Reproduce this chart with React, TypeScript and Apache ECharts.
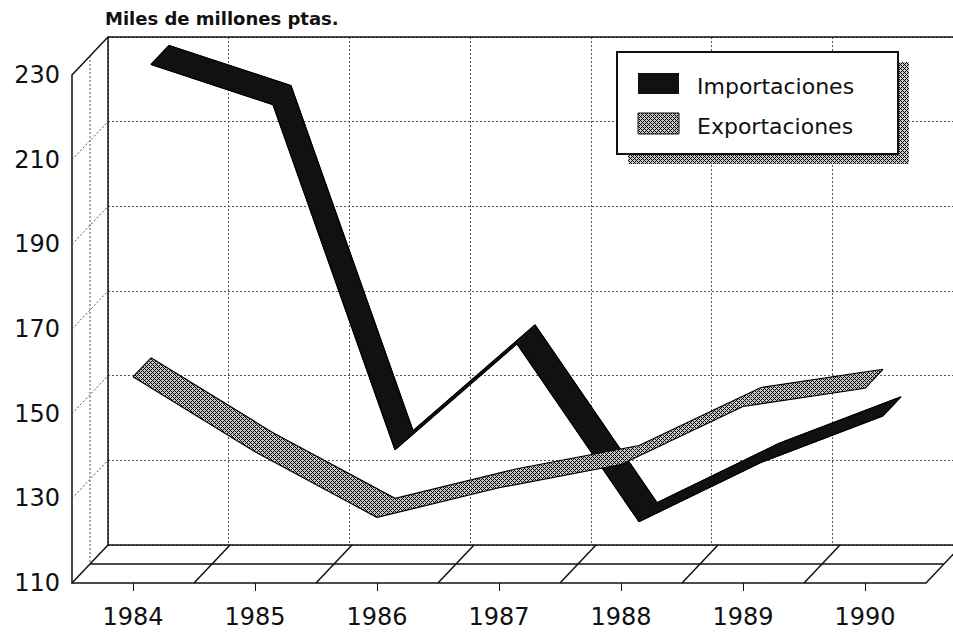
import React, { useEffect, useRef } from "react";
import * as echarts from "echarts";

// ---- data ----
const years = ["1984", "1985", "1986", "1987", "1988", "1989", "1990"];
const importaciones = [228, 218.5, 137, 162, 120, 134, 145];
const exportaciones = [158.7, 141, 125.5, 132.5, 138, 151.7, 156];
const yTicks = [110, 130, 150, 170, 190, 210, 230];
const titleText = "Miles de millones ptas.";
const seriesNames = ["Importaciones", "Exportaciones"];

// ---- layout ----
const L = 72;
const T = 75;
const W = 854;
const H = 508;
const DX = 36;
const DY = -38;
const FONT = "DejaVu Sans";
const INK = "#111";

function makeHatch(): HTMLCanvasElement {
  const c = document.createElement("canvas");
  c.width = 4;
  c.height = 4;
  const ctx = c.getContext("2d")!;
  ctx.fillStyle = "#c8c8c8";
  ctx.fillRect(0, 0, 4, 4);
  ctx.fillStyle = "#000";
  for (let x = 0; x < 4; x++) {
    for (let y = 0; y < 4; y++) {
      if ((x + y) % 4 === 0 || (x - y + 4) % 4 === 0) ctx.fillRect(x, y, 1, 1);
    }
  }
  return c;
}

export default function App() {
  const ref = useRef<HTMLDivElement>(null);

  useEffect(() => {
    document.body.style.margin = "0";
    if (!ref.current) return;
    const chart = echarts.init(ref.current, undefined, { renderer: "svg" });
    const hatch: any = { image: makeHatch(), repeat: "repeat", imageWidth: 4, imageHeight: 4 };

    const yMin = yTicks[0];
    const yMax = yTicks[yTicks.length - 1];
    const yOf = (v: number) => T + ((yMax - v) / (yMax - yMin)) * H;
    const B = T + H;
    const band = W / years.length;

    const solid = { stroke: INK, lineWidth: 1.5 };
    const dotted = { stroke: "#555", lineWidth: 1, lineDash: [2, 2] };
    const line = (x1: number, y1: number, x2: number, y2: number, style: any) => ({
      type: "line",
      z: 1,
      silent: true,
      shape: { x1, y1, x2, y2 },
      style,
    });

    const frame: any[] = [];
    // left wall
    frame.push(line(L, T, L + DX, T + DY, solid));
    frame.push(line(L + DX, T + DY, L + DX + W, T + DY, solid));
    yTicks.slice(1, -1).forEach((v) => {
      const y = yOf(v);
      frame.push(line(L, y, L + DX, y + DY, dotted));
    });
    frame.push(line(L + DX / 2, T + DY / 2, L + DX / 2, B + DY / 2, dotted));
    // floor
    frame.push(line(L, B, L + DX, B + DY, solid));
    frame.push(line(L + DX / 2, B + DY / 2, L + W + DX / 2, B + DY / 2, solid));
    for (let k = 1; k <= years.length; k++) {
      const x = L + k * band;
      frame.push(line(x, B, x + DX, B + DY, solid));
    }

    // legend
    const LX = 617, LY = 52, LW = 281, LH = 102;
    const legend: any[] = [
      { type: "rect", z: 20, shape: { x: LX + 11, y: LY + 10, width: LW, height: LH }, style: { fill: hatch } },
      { type: "rect", z: 21, shape: { x: LX, y: LY, width: LW, height: LH }, style: { fill: "#fff", stroke: INK, lineWidth: 2 } },
      { type: "rect", z: 22, shape: { x: LX + 21, y: LY + 21, width: 41, height: 21 }, style: { fill: INK } },
      { type: "rect", z: 22, shape: { x: LX + 21, y: LY + 61, width: 41, height: 21 }, style: { fill: hatch, stroke: INK, lineWidth: 1 } },
      { type: "text", z: 22, x: LX + 80, y: LY + 34, style: { text: seriesNames[0], font: `22px '${FONT}'`, fill: INK, textVerticalAlign: "middle" } },
      { type: "text", z: 22, x: LX + 80, y: LY + 74, style: { text: seriesNames[1], font: `22px '${FONT}'`, fill: INK, textVerticalAlign: "middle" } },
      { type: "text", z: 22, x: 105, y: 18, style: { text: titleText, font: `bold 18px '${FONT}'`, fill: INK, textVerticalAlign: "middle" } },
    ];

    const ribbon = (name: string, values: number[], d0: number, d1: number, fill: any, seam: string | null) => ({
      type: "custom",
      name,
      xAxisIndex: 0,
      yAxisIndex: 0,
      clip: false,
      z: 5,
      data: values.slice(0, -1).map((v, i) => [i, v, values[i + 1]]),
      renderItem: (params: any, api: any) => {
        const i = api.value(0);
        const last = values.length - 2;
        const a = api.coord([i, api.value(1)]);
        const b = api.coord([i + 1, api.value(2)]);
        const off = (p: number[], d: number) => [p[0] + DX * d, p[1] + DY * d];
        const a0 = off(a, d0), b0 = off(b, d0), b1 = off(b, d1), a1 = off(a, d1);
        const edge = { stroke: "#000", lineWidth: 1.2, fill: null };
        const children: any[] = [
          {
            type: "polygon",
            shape: { points: [a0, b0, b1, a1] },
            style: { fill, stroke: seam, lineWidth: seam ? 1 : 0, lineJoin: "round" },
          },
          { type: "polyline", shape: { points: [a0, b0] }, style: edge },
          { type: "polyline", shape: { points: [a1, b1] }, style: edge },
        ];
        if (i === 0) children.push({ type: "polyline", shape: { points: [a0, a1] }, style: edge });
        if (i === last) children.push({ type: "polyline", shape: { points: [b0, b1] }, style: edge });
        return { type: "group", children };
      },
    });

    const axisText = { fontFamily: FONT, fontSize: 24, color: INK };

    chart.setOption({
      animation: false,
      backgroundColor: "#fff",
      grid: [
        { left: L, top: T, width: W, height: H },
        { left: L + DX, top: T + DY, width: W, height: H },
      ],
      xAxis: [
        {
          type: "category",
          gridIndex: 0,
          data: years,
          boundaryGap: true,
          axisLine: { show: true, lineStyle: { color: INK, width: 1.5 } },
          axisTick: { show: true, alignWithLabel: true, length: 8, lineStyle: { color: INK } },
          axisLabel: { ...axisText, margin: 22, interval: 0 },
          splitLine: { show: false },
        },
        {
          type: "category",
          gridIndex: 1,
          data: years,
          boundaryGap: true,
          axisLine: { show: true, lineStyle: { color: INK, width: 1.5 } },
          axisTick: { show: false },
          axisLabel: { show: false, interval: 0 },
          splitLine: { show: true, interval: 0, lineStyle: { color: "#555", width: 1, type: [2, 2] } },
        },
      ],
      yAxis: [
        {
          type: "value",
          gridIndex: 0,
          min: yMin,
          max: yMax,
          interval: 20,
          axisLine: { show: true, lineStyle: { color: INK, width: 1.5 } },
          axisTick: { show: false },
          axisLabel: { ...axisText, margin: 12 },
          splitLine: { show: false },
        },
        {
          type: "value",
          gridIndex: 1,
          min: yMin,
          max: yMax,
          interval: 20,
          axisLine: { show: true, lineStyle: { color: INK, width: 1.5 } },
          axisTick: { show: false },
          axisLabel: { show: false },
          splitLine: { show: true, lineStyle: { color: "#555", width: 1, type: [2, 2] } },
        },
      ],
      graphic: [...frame, ...legend],
      series: [
        ribbon(seriesNames[0], importaciones, 0.5, 1, INK, INK),
        ribbon(seriesNames[1], exportaciones, 0, 0.5, hatch, null),
      ],
    });

    return () => chart.dispose();
  }, []);

  return <div ref={ref} style={{ width: 953, height: 633 }} />;
}
